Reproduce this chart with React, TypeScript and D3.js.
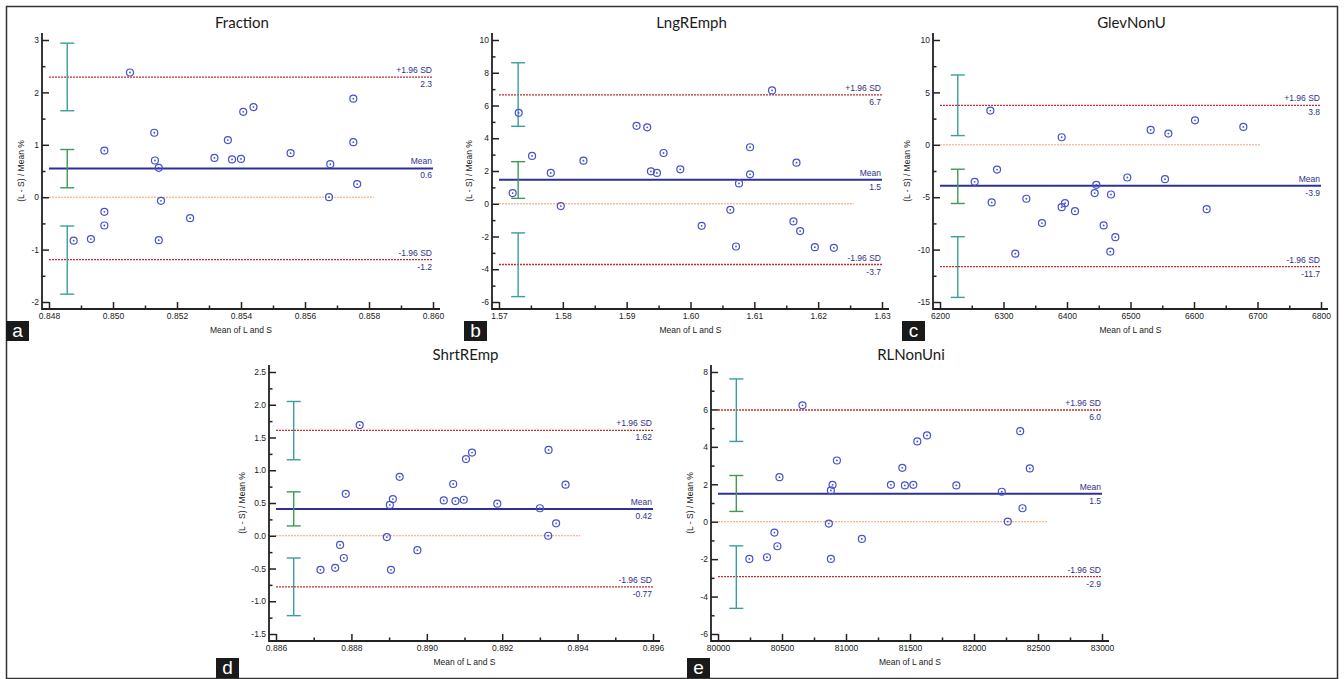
import { useEffect, useRef } from "react";
import * as d3 from "d3";

// a - Fraction
const fractionX = [0.84877, 0.84931, 0.84973, 0.84973, 0.84973, 0.85053, 0.85129, 0.85131, 0.85143, 0.8515, 0.85143, 0.85241, 0.85317, 0.85359, 0.85372, 0.854, 0.85407, 0.85439, 0.85555, 0.85675, 0.85679, 0.85751, 0.85751, 0.85763];
const fractionY = [-0.83, -0.8, 0.89, -0.28, -0.54, 2.38, 1.23, 0.7, 0.56, -0.07, -0.82, -0.4, 0.75, 1.09, 0.72, 0.73, 1.63, 1.72, 0.84, 0.0, 0.63, 1.88, 1.05, 0.25];
const fractionLines = [0.55, 2.29, -1.19]; // mean, +1.96 SD, -1.96 SD
const fractionLineLabels = ["0.6", "2.3", "-1.2"];
const fractionCI = [[0.18, 0.91], [1.65, 2.94], [-1.85, -0.55]];
const fractionCIx = 0.84857;
const fractionZeroEnd = 0.85816;
const fractionXTicks = [0.848, 0.85, 0.852, 0.854, 0.856, 0.858, 0.86];
const fractionYTicks = [-2, -1, 0, 1, 2, 3];

// b - LngREmph
const lngX = [1.57214, 1.57309, 1.57518, 1.57811, 1.57968, 1.58323, 1.59155, 1.59322, 1.5938, 1.59474, 1.59578, 1.5984, 1.60175, 1.60624, 1.60713, 1.6076, 1.60933, 1.60933, 1.61278, 1.61613, 1.6166, 1.61718, 1.61948, 1.62246];
const lngY = [0.65, 5.55, 2.92, 1.88, -0.14, 2.63, 4.76, 4.67, 1.98, 1.88, 3.1, 2.1, -1.35, -0.37, -2.61, 1.24, 3.45, 1.8, 6.92, -1.08, 2.51, -1.67, -2.65, -2.69];
const lngLines = [1.47, 6.65, -3.71];
const lngLineLabels = ["1.5", "6.7", "-3.7"];
const lngCI = [[0.33, 2.57], [4.73, 8.61], [-5.67, -1.78]];
const lngCIx = 1.573;
const lngZeroEnd = 1.6256;
const lngXTicks = [1.57, 1.58, 1.59, 1.6, 1.61, 1.62, 1.63];
const lngYTicks = [-6, -4, -2, 0, 2, 4, 6, 8, 10];

// c - GlevNonU
const glevX = [6254.6, 6279.3, 6281.4, 6289.8, 6318.6, 6336, 6360.6, 6391.6, 6391.6, 6396.9, 6412.6, 6443.6, 6446.2, 6457.7, 6468.2, 6469.3, 6476.1, 6495, 6531.8, 6554.3, 6559.6, 6601.6, 6620, 6677.7];
const glevY = [-3.53, 3.27, -5.5, -2.36, -10.39, -5.15, -7.47, 0.72, -5.95, -5.57, -6.33, -4.61, -3.82, -7.69, -10.2, -4.74, -8.81, -3.12, 1.42, -3.28, 1.07, 2.34, -6.14, 1.71];
const glevLines = [-3.91, 3.77, -11.63];
const glevLineLabels = ["-3.9", "3.8", "-11.7"];
const glevCI = [[-5.6, -2.33], [0.88, 6.66], [-14.56, -8.77]];
const glevCIx = 6228;
const glevZeroEnd = 6705;
const glevXTicks = [6200, 6300, 6400, 6500, 6600, 6700, 6800];
const glevYTicks = [-15, -10, -5, 0, 5, 10];

// d - ShrtREmp
const shrtX = [0.88718, 0.88757, 0.8877, 0.8878, 0.88785, 0.88822, 0.88894, 0.88902, 0.88905, 0.8891, 0.88928, 0.88975, 0.89045, 0.8907, 0.89076, 0.89098, 0.89104, 0.8912, 0.89187, 0.893, 0.89322, 0.89323, 0.89343, 0.89368];
const shrtY = [-0.52, -0.49, -0.14, -0.34, 0.64, 1.69, -0.02, 0.47, -0.52, 0.56, 0.9, -0.22, 0.54, 0.79, 0.53, 0.55, 1.17, 1.27, 0.49, 0.42, 0.0, 1.31, 0.19, 0.78];
const shrtLines = [0.41, 1.61, -0.78];
const shrtLineLabels = ["0.42", "1.62", "-0.77"];
const shrtCI = [[0.15, 0.67], [1.16, 2.05], [-1.22, -0.34]];
const shrtCIx = 0.88647;
const shrtZeroEnd = 0.89407;
const shrtXTicks = [0.886, 0.888, 0.89, 0.892, 0.894, 0.896];
const shrtYTicks = [-1.5, -1.0, -0.5, 0, 0.5, 1.0, 1.5, 2.0, 2.5];

// e - RLNonUni
const rlX = [80245, 80383, 80441, 80464, 80480, 80660, 80866, 80882, 80882, 80895, 80929, 81124, 81351, 81440, 81460, 81526, 81557, 81633, 81862, 82217, 82264, 82361, 82379, 82436];
const rlY = [-1.99, -1.9, -0.58, -1.31, 2.38, 6.22, -0.1, 1.67, -1.99, 1.97, 3.27, -0.92, 1.97, 2.88, 1.94, 1.97, 4.29, 4.61, 1.94, 1.6, 0.01, 4.84, 0.72, 2.85];
const rlLines = [1.49, 5.97, -2.93];
const rlLineLabels = ["1.5", "6.0", "-2.9"];
const rlCI = [[0.55, 2.47], [4.29, 7.63], [-4.63, -1.29]];
const rlCIx = 80143;
const rlZeroEnd = 82577;
const rlXTicks = [80000, 80500, 81000, 81500, 82000, 82500, 83000];
const rlYTicks = [-6, -4, -2, 0, 2, 4, 6, 8];

const fmt = (spec: string) => (v: number) => d3.format(spec)(v).replace("\u2212", "-");

const panels = [
  { title: "Fraction", letter: "a", xs: fractionX, ys: fractionY, lines: fractionLines, labels: fractionLineLabels, ci: fractionCI, ciX: fractionCIx, zeroEnd: fractionZeroEnd, xTicks: fractionXTicks, yTicks: fractionYTicks, xFmt: fmt(".3f"), yFmt: fmt("d"), xr: [49, 433], yr: [302, 40], box: [6, 321], yTitle: 21 },
  { title: "LngREmph", letter: "b", xs: lngX, ys: lngY, lines: lngLines, labels: lngLineLabels, ci: lngCI, ciX: lngCIx, zeroEnd: lngZeroEnd, xTicks: lngXTicks, yTicks: lngYTicks, xFmt: fmt(".2f"), yFmt: fmt("d"), xr: [499, 882], yr: [302, 40], box: [464, 321], yTitle: 23 },
  { title: "GlevNonU", letter: "c", xs: glevX, ys: glevY, lines: glevLines, labels: glevLineLabels, ci: glevCI, ciX: glevCIx, zeroEnd: glevZeroEnd, xTicks: glevXTicks, yTicks: glevYTicks, xFmt: fmt("d"), yFmt: fmt("d"), xr: [940, 1321], yr: [302, 40], box: [902, 321], yTitle: 26 },
  { title: "ShrtREmp", letter: "d", xs: shrtX, ys: shrtY, lines: shrtLines, labels: shrtLineLabels, ci: shrtCI, ciX: shrtCIx, zeroEnd: shrtZeroEnd, xTicks: shrtXTicks, yTicks: shrtYTicks, xFmt: fmt(".3f"), yFmt: fmt(".1f"), xr: [276, 653], yr: [634, 372], box: [216, 658], yTitle: 27 },
  { title: "RLNonUni", letter: "e", xs: rlX, ys: rlY, lines: rlLines, labels: rlLineLabels, ci: rlCI, ciX: rlCIx, zeroEnd: rlZeroEnd, xTicks: rlXTicks, yTicks: rlYTicks, xFmt: fmt("d"), yFmt: fmt("d"), xr: [718, 1102], yr: [634, 372], box: [687, 658], yTitle: 21 },
];

const FONT = "'Liberation Sans', Arial, sans-serif";
const NAVY = "#2d3196";
const LABEL = "#2f2f88";

export default function App() {
  const svgRef = useRef<SVGSVGElement | null>(null);

  useEffect(() => {
    const svg = d3.select(svgRef.current);
    svg.selectAll("*").remove();

    svg.append("rect").attr("width", 1344).attr("height", 679).attr("fill", "#fff");
    // outer frame
    svg.append("rect")
      .attr("x", 6.5).attr("y", 6.5).attr("width", 1331).attr("height", 672)
      .attr("fill", "none").attr("stroke", "#333").attr("stroke-width", 1.5);

    panels.forEach((p) => {
      const x = d3.scaleLinear().domain([p.xTicks[0], p.xTicks[p.xTicks.length - 1]]).range(p.xr);
      const y = d3.scaleLinear().domain([p.yTicks[0], p.yTicks[p.yTicks.length - 1]]).range(p.yr);
      const off = 7;
      const axisX = p.xr[0] - off;
      const axisY = p.yr[0] + off;
      const g = svg.append("g");

      // title
      g.append("text")
        .attr("x", (p.xr[0] + p.xr[1]) / 2 + 1)
        .attr("y", p.yr[1] - 12)
        .attr("text-anchor", "middle")
        .attr("font-family", "Lato, 'Open Sans', sans-serif")
        .attr("font-size", 15)
        .attr("fill", "#1a1a1a")
        .text(p.title);

      // zero line
      g.append("line")
        .attr("x1", x.range()[0]).attr("x2", x(p.zeroEnd))
        .attr("y1", y(0)).attr("y2", y(0))
        .attr("stroke", "#f4a173").attr("stroke-width", 1).attr("stroke-dasharray", "2,1");

      // limits of agreement
      [p.lines[1], p.lines[2]].forEach((v) => {
        g.append("line")
          .attr("x1", p.xr[0]).attr("x2", p.xr[1])
          .attr("y1", y(v)).attr("y2", y(v))
          .attr("stroke", "#c0302e").attr("stroke-width", 1.3).attr("stroke-dasharray", "2,1");
      });
      // mean
      g.append("line")
        .attr("x1", p.xr[0]).attr("x2", p.xr[1])
        .attr("y1", y(p.lines[0])).attr("y2", y(p.lines[0]))
        .attr("stroke", NAVY).attr("stroke-width", 2);

      const names = ["Mean", "+1.96 SD", "-1.96 SD"];
      p.lines.forEach((v, i) => {
        const t = g.append("g").attr("font-family", FONT).attr("font-size", 8.5).attr("fill", LABEL).attr("text-anchor", "end");
        t.append("text").attr("x", p.xr[1] - 1).attr("y", y(v) - 4).text(names[i]);
        t.append("text").attr("x", p.xr[1] - 1).attr("y", y(v) + 10).text(p.labels[i]);
      });

      // confidence interval bars
      p.ci.forEach(([lo, hi], i) => {
        const col = i === 0 ? "#3f9a55" : "#3a9f9b";
        const cx = x(p.ciX);
        const b = g.append("g").attr("stroke", col).attr("stroke-width", 1.4);
        b.append("line").attr("x1", cx).attr("x2", cx).attr("y1", y(lo)).attr("y2", y(hi));
        b.append("line").attr("x1", cx - 7).attr("x2", cx + 7).attr("y1", y(lo)).attr("y2", y(lo));
        b.append("line").attr("x1", cx - 7).attr("x2", cx + 7).attr("y1", y(hi)).attr("y2", y(hi));
      });

      // points
      const pts = g.append("g").selectAll("g").data(p.xs.map((v, i) => [v, p.ys[i]])).join("g")
        .attr("transform", (d) => `translate(${x(d[0])},${y(d[1])})`);
      pts.append("circle").attr("r", 3.5).attr("fill", "none").attr("stroke", "#4652cc").attr("stroke-width", 1.2);
      pts.append("circle").attr("r", 0.9).attr("fill", "#4652cc");

      // axes
      const xMinor = p.xTicks.slice(1).map((v, i) => (v + p.xTicks[i]) / 2);
      const yMinor = p.yTicks.slice(1).map((v, i) => (v + p.yTicks[i]) / 2);

      const xa = g.append("g").attr("transform", `translate(0,${axisY})`);
      xa.call(d3.axisBottom(x).tickValues(p.xTicks).tickSize(-off).tickSizeOuter(0).tickPadding(4).tickFormat((d) => p.xFmt(d as number)));
      xa.append("g").call(d3.axisBottom(x).tickValues(xMinor).tickSize(-3.5).tickSizeOuter(0).tickFormat(() => ""));
      const ya = g.append("g").attr("transform", `translate(${axisX},0)`);
      ya.call(d3.axisLeft(y).tickValues(p.yTicks).tickSize(-off).tickSizeOuter(0).tickPadding(3).tickFormat((d) => p.yFmt(d as number)));
      ya.append("g").call(d3.axisLeft(y).tickValues(yMinor).tickSize(-3.5).tickSizeOuter(0).tickFormat(() => ""));
      g.selectAll(".domain").remove();
      g.selectAll(".tick line").attr("stroke", "#222").attr("stroke-width", 1.5);
      g.selectAll(".tick text").attr("font-family", FONT).attr("font-size", 8.5).attr("fill", "#222");

      g.append("path")
        .attr("d", `M${axisX},${p.yr[1] - off}V${axisY}H${p.xr[1] + off}`)
        .attr("fill", "none").attr("stroke", "#222").attr("stroke-width", 1.8);

      // axis titles
      g.append("text")
        .attr("x", (p.xr[0] + p.xr[1]) / 2).attr("y", axisY + 24)
        .attr("text-anchor", "middle").attr("font-family", FONT).attr("font-size", 8.5).attr("fill", "#222")
        .text("Mean of L and S");
      g.append("text")
        .attr("transform", `translate(${axisX - p.yTitle + 3},${(p.yr[0] + p.yr[1]) / 2}) rotate(-90)`)
        .attr("text-anchor", "middle").attr("font-family", FONT).attr("font-size", 8.5).attr("fill", "#222")
        .text("(L - S) / Mean %");

      // panel letter
      g.append("rect").attr("x", p.box[0]).attr("y", p.box[1]).attr("width", 23).attr("height", 20).attr("fill", "#1a1a1a");
      g.append("text")
        .attr("x", p.box[0] + 11.5).attr("y", p.box[1] + 16)
        .attr("text-anchor", "middle").attr("font-family", FONT).attr("font-size", 19).attr("fill", "#fff")
        .text(p.letter);
    });
  }, []);

  return (
    <div style={{ position: "absolute", left: 0, top: 0 }}>
      <svg ref={svgRef} width={1344} height={679} />
    </div>
  );
}
